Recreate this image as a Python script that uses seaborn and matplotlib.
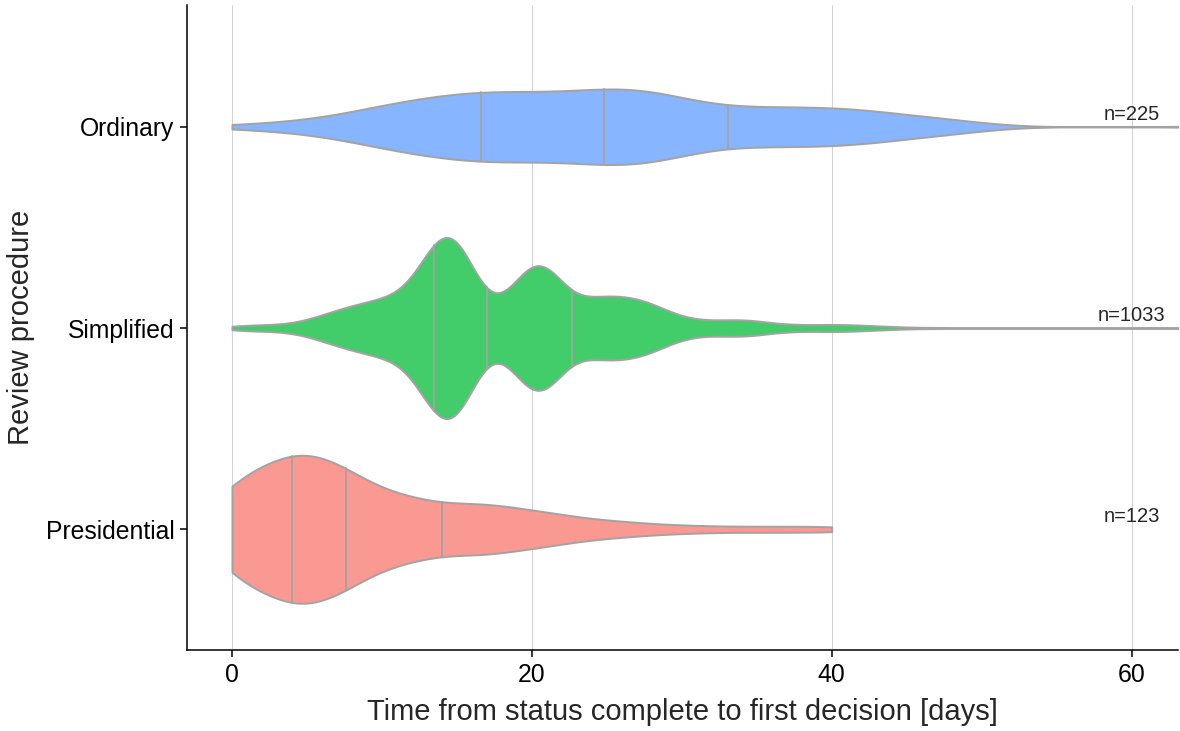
import numpy as np
import pandas as pd
import matplotlib
matplotlib.use("Agg")
import matplotlib.pyplot as plt
import seaborn as sns

# ---------------- data ----------------
categories = ["Ordinary", "Simplified", "Presidential"]
colors = ["#88b5ff", "#43cd6a", "#fa9892"]

ordinary_days = [0, 2, 3, 4, 5, 6, 7, 8, 9, 10, 11, 12, 13, 14, 15, 16, 16.6,
                 17, 18, 19, 20, 21, 22, 23, 24, 24.8,
                 25, 26, 27, 28, 29, 30, 31, 32, 33.1,
                 34, 35, 36, 37, 38, 39, 40, 41, 42, 43, 44, 45, 46, 47, 48, 49,
                 50, 66]
ordinary_counts = [1, 1, 1, 1, 1, 2, 2, 3, 4, 4, 5, 6, 6, 6, 7, 6, 3,
                   6, 7, 7, 7, 7, 7, 7, 5, 4,
                   7, 8, 8, 8, 7, 6, 5, 3, 4,
                   4, 4, 4, 4, 4, 4, 4, 4, 4, 3, 3, 2, 2, 2, 2, 1,
                   1, 1]

simplified_days = [0, 1, 2, 3, 4, 5, 6, 7, 8, 9, 10, 11, 12, 13, 13.5,
                   14, 15, 16, 17, 18, 19, 20, 21, 22, 22.7,
                   23.5, 24.5, 25.5, 26.5, 27.5, 28.5, 29.5, 30.5, 31.5, 32.5,
                   33.5, 34.5, 35.5, 36.5, 37.5, 38.5, 39.5, 40.5, 41.5, 42.5,
                   43.5, 44.5, 46, 48, 55, 66]
simplified_counts = [2, 3, 3, 3, 4, 7, 12, 17, 21, 24, 27, 31, 36, 68, 10,
                     90, 108, 50, 20, 15, 46, 70, 72, 35, 10,
                     27, 30, 31, 29, 27, 20, 12, 8, 7, 7,
                     8, 9, 5, 4, 3, 3, 3, 4, 3, 2,
                     2, 1, 1, 1, 1, 1]

presidential_days = [0, 1, 2, 3, 4, 5, 6, 7, 7.6, 8, 9, 10, 11, 12, 13, 14,
                     15, 16, 17, 18, 19, 20, 21, 22, 23, 24, 25, 26, 27, 29, 31, 34, 37, 40]
presidential_counts = [12, 4, 6, 8, 10, 9, 9, 3, 7, 4, 4, 4, 4, 4, 3, 2,
                       3, 3, 3, 3, 2, 2, 2, 2, 1, 1, 1, 1, 1, 1, 1, 1, 1, 1]

x_ticks = [0, 20, 40, 60]
x_label = "Time from status complete to first decision [days]"
y_label = "Review procedure"

# ---------------- build long table ----------------
groups = {
    "Ordinary": (ordinary_days, ordinary_counts),
    "Simplified": (simplified_days, simplified_counts),
    "Presidential": (presidential_days, presidential_counts),
}
frames = []
for name in categories:
    d, c = groups[name]
    frames.append(pd.DataFrame({"procedure": name,
                                "days": np.repeat(np.asarray(d, float), c)}))
df = pd.concat(frames, ignore_index=True)


def nrd0(kde):
    """Silverman's rule of thumb as used by R (bw.nrd0)."""
    d = np.asarray(kde.dataset).ravel()
    sd = d.std(ddof=1)
    q75, q25 = np.percentile(d, [75, 25])
    lo = min(sd, (q75 - q25) / 1.34)
    bw = 0.9 * lo * len(d) ** (-0.2)
    return bw / sd


# ---------------- style ----------------
sns.set_style("ticks")
plt.rcParams["font.family"] = ["Liberation Sans", "DejaVu Sans"]

fig = plt.figure(figsize=(11.8, 7.31), dpi=100)
ax = fig.add_axes([187 / 1180, 1 - 650 / 731, (1178 - 187) / 1180, (650 - 5) / 731])

outline = "#a3a3a3"
sns.violinplot(data=df, x="days", y="procedure", order=categories,
               hue="procedure", hue_order=categories, palette=colors, legend=False,
               saturation=1, cut=0, density_norm="area", common_norm=True, width=0.9,
               bw_method=nrd0, bw_adjust=0.78, gridsize=512, inner="quart",
               linecolor=outline, linewidth=1.4,
               inner_kws={"color": outline, "linewidth": 1.3},
               ax=ax)
for ln in ax.lines:
    ln.set_linestyle("-")

# sample sizes
for i, name in enumerate(categories):
    n = int(np.sum(groups[name][1]))
    ax.text(60, i - 0.035, f"n={n}", ha="center", va="baseline", fontsize=14.5)

ax.set_xlim(-3, 63.1)
ax.set_ylim(2.6, -0.605)
ax.set_xticks(x_ticks)
ax.set_xticklabels([str(t) for t in x_ticks])
ax.xaxis.grid(True, color="#d4d4d4", linewidth=0.8)
ax.yaxis.grid(False)
ax.set_axisbelow(True)

sns.despine(ax=ax)
for s in ["left", "bottom"]:
    ax.spines[s].set_linewidth(1.1)
    ax.spines[s].set_color("black")
ax.tick_params(axis="both", labelsize=17.8, colors="black", length=5, width=1.1, pad=4)

ax.set_xlabel(x_label, fontsize=21, labelpad=8)
ax.set_ylabel(y_label, fontsize=21, labelpad=8)

fig.savefig("out.png", dpi=100)
